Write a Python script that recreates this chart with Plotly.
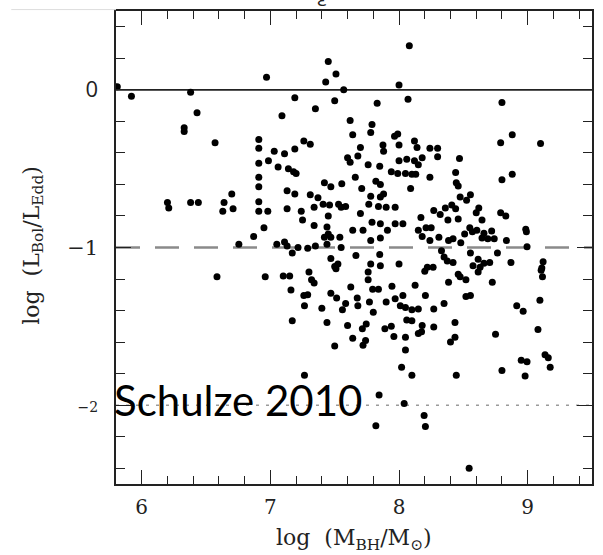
import plotly.graph_objects as go

# log(M_BH / M_sun) and log(L_bol / L_Edd) for the AGN sample,
# stored band by band from the top of the diagram downwards.
mbh_band1 = [5.81, 5.92, 6.38, 6.43, 6.33, 6.33, 6.97, 7.09, 7.19, 7.35,
             7.45, 7.43, 7.51, 7.50, 7.57, 7.62, 7.79, 7.83, 8.00, 8.08,
             8.07, 8.80]
edd_band1 = [0.02, -0.04, -0.015, -0.145, -0.24, -0.265, 0.08, -0.165, -0.05, -0.12,
             0.18, 0.05, 0.10, -0.07, 0.00, -0.195, -0.22, -0.085, 0.03, 0.28,
             -0.06, -0.08]

mbh_band2 = [6.57, 6.20, 6.21, 6.38, 6.44, 6.70, 6.71, 6.64, 6.63, 6.755,
             6.87, 6.95, 6.91, 6.91, 6.91, 6.985, 7.03, 7.11, 7.19, 7.26,
             7.31, 7.06, 7.14, 7.18, 7.20, 6.91, 6.91, 6.91, 6.91, 6.98,
             7.13, 7.19, 7.13, 7.24, 7.25, 7.31, 7.37, 7.34, 7.42, 7.47,
             7.555, 7.41, 7.46, 7.53, 7.55, 7.585, 7.45, 7.34, 7.44, 7.45,
             7.42, 7.47, 7.44, 7.54, 7.35, 7.29, 7.215, 7.11, 7.05, 7.13,
             7.17, 7.47, 7.50, 7.55]
edd_band2 = [-0.335, -0.715, -0.75, -0.715, -0.715, -0.66, -0.755, -0.715, -0.77, -0.98,
             -0.93, -0.875, -0.315, -0.37, -0.465, -0.45, -0.39, -0.405, -0.375, -0.325,
             -0.345, -0.49, -0.50, -0.52, -0.53, -0.555, -0.615, -0.71, -0.77, -0.77,
             -0.64, -0.66, -0.755, -0.77, -0.825, -0.665, -0.685, -0.745, -0.59, -0.615,
             -0.595, -0.725, -0.73, -0.725, -0.745, -0.74, -0.80, -0.86, -0.87, -0.915,
             -0.935, -0.935, -0.98, -0.935, -0.99, -1.005, -1.0, -0.965, -0.98, -0.99,
             -1.035, -1.07, -1.12, -1.0]

mbh_band3 = [7.64, 7.78, 7.965, 7.99, 7.70, 7.60, 7.62, 7.68, 7.76, 7.85,
             7.875, 7.88, 8.00, 8.12, 8.14, 8.24, 8.30, 8.00, 8.06, 8.12,
             8.15, 8.18, 8.30, 8.47, 7.94, 7.99, 8.05, 8.10, 8.13, 8.24,
             8.44, 8.445, 8.46, 8.79, 8.88, 9.10, 8.88, 8.80, 7.66, 7.82,
             7.855, 7.71, 7.88, 7.855, 7.78, 8.09, 7.765, 7.84, 7.90, 7.97,
             7.70, 7.64, 7.72, 7.79, 7.855, 7.91, 7.97, 8.03, 7.78, 7.855]
edd_band3 = [-0.285, -0.27, -0.295, -0.28, -0.365, -0.43, -0.46, -0.42, -0.475, -0.485,
             -0.35, -0.39, -0.35, -0.325, -0.365, -0.37, -0.37, -0.45, -0.44, -0.45,
             -0.475, -0.43, -0.425, -0.435, -0.52, -0.53, -0.53, -0.535, -0.535, -0.555,
             -0.525, -0.59, -0.61, -0.335, -0.285, -0.34, -0.535, -0.57, -0.555, -0.58,
             -0.60, -0.625, -0.66, -0.68, -0.675, -0.625, -0.725, -0.74, -0.745, -0.745,
             -0.785, -0.89, -0.89, -0.84, -0.85, -0.89, -0.85, -0.85, -0.955, -0.94]

mbh_band4 = [8.17, 8.15, 8.21, 8.25, 8.18, 8.24, 8.27, 8.32, 8.36, 8.41,
             8.44, 8.38, 8.46, 8.475, 8.525, 8.555, 8.60, 8.62, 8.645, 8.55,
             8.57, 8.605, 8.66, 8.72, 8.79, 8.83, 8.985, 8.99, 8.42, 8.48,
             8.51, 8.645, 8.69, 8.74, 8.31, 8.385, 8.835, 8.995, 8.33, 8.35,
             8.375, 8.42, 8.555, 8.615, 8.66, 8.705, 8.575, 8.63, 8.87, 9.12,
             9.11, 8.765, 8.22, 8.265, 7.78, 7.855, 8.00, 7.85, 7.665, 7.525,
             7.51]
edd_band4 = [-0.81, -0.89, -0.875, -0.875, -0.93, -0.955, -0.765, -0.79, -0.75, -0.73,
             -0.755, -0.825, -0.82, -0.68, -0.70, -0.665, -0.78, -0.75, -0.825, -0.875,
             -0.90, -0.89, -0.91, -0.895, -0.78, -0.80, -0.885, -0.90, -0.945, -0.97,
             -0.915, -0.94, -0.945, -0.945, -0.935, -0.955, -0.955, -0.995, -1.02, -1.06,
             -1.085, -1.095, -1.035, -1.075, -1.10, -1.095, -1.115, -1.125, -1.095, -1.09,
             -1.13, -1.035, -1.125, -1.125, -1.105, -1.115, -1.105, -1.045, -1.05, -1.105,
             -1.135]

mbh_band5 = [6.585, 6.96, 7.10, 7.15, 7.30, 7.32, 7.34, 7.16, 7.26, 7.29,
             7.265, 7.17, 7.40, 7.47, 7.515, 7.44, 7.56, 7.585, 7.625, 7.60,
             7.64, 7.675, 7.68, 7.715, 7.745, 7.72, 7.74, 7.76, 7.76, 7.77,
             7.795, 7.84, 7.80, 7.89, 7.94, 7.90, 7.945, 7.97, 7.96, 8.03,
             8.01, 8.05, 8.10, 8.15, 8.06, 8.10, 8.05, 8.05, 8.02, 8.10,
             8.125, 8.18, 8.15, 8.175, 8.20, 8.205, 8.27, 8.27, 8.35, 8.385,
             8.435, 8.435, 8.40, 8.445, 8.46, 8.475, 8.52, 8.52, 8.555, 8.615,
             8.725, 8.75, 8.80, 8.915, 8.965, 8.95, 8.995, 8.98, 9.08, 9.095,
             9.105, 9.115, 9.135, 9.16, 9.175, 7.265, 7.50, 7.845, 8.04, 7.82,
             8.195, 8.205, 8.545]
edd_band5 = [-1.185, -1.185, -1.18, -1.18, -1.155, -1.205, -1.225, -1.27, -1.305, -1.30,
             -1.37, -1.465, -1.385, -1.29, -1.32, -1.475, -1.395, -1.355, -1.25, -1.495,
             -1.575, -1.32, -1.37, -1.515, -1.485, -1.62, -1.59, -1.155, -1.205, -1.345,
             -1.265, -1.265, -1.41, -1.515, -1.50, -1.345, -1.245, -1.325, -1.565, -1.305,
             -1.37, -1.38, -1.395, -1.39, -1.46, -1.465, -1.57, -1.65, -1.76, -1.81,
             -1.24, -1.495, -1.545, -1.535, -1.15, -1.305, -1.39, -1.505, -1.355, -1.22,
             -1.475, -1.57, -1.60, -1.81, -1.17, -1.185, -1.205, -1.31, -1.305, -1.155,
             -1.22, -1.55, -1.78, -1.37, -1.405, -1.715, -1.725, -1.815, -1.52, -1.335,
             -1.145, -1.185, -1.68, -1.70, -1.76, -1.81, -1.625, -1.935, -1.99, -2.13,
             -2.065, -2.135, -2.40]

log_mbh = mbh_band1 + mbh_band2 + mbh_band3 + mbh_band4 + mbh_band5
log_edd = edd_band1 + edd_band2 + edd_band3 + edd_band4 + edd_band5

# axis ticks
x_tickvals = [6, 7, 8, 9]
x_ticktext = ["6", "7", "8", "9"]
y_tickvals = [0, -1, -2]
y_ticktext = [
    '<span style="font-family:Open Sans;font-size:22px">0</span>',
    '<span style="font-size:21px">\u22121</span>',
    '<span style="font-size:14px">\u22122</span>',
]

# reference Eddington ratios: 1, 0.1 and 0.01
ref_levels = [0, -1, -2]
ref_styles = [
    dict(color="#222222", width=1.7),
    dict(color="#8a8a8a", width=2.6, dash="24px,15px"),
    dict(color="#9a9a9a", width=1.5, dash="3px,7px"),
]

serif = "DejaVu Serif"
ink = "#222222"

fig = go.Figure()
fig.add_trace(go.Scatter(
    x=log_mbh, y=log_edd, mode="markers",
    marker=dict(color="black", size=7, line=dict(width=0)),
    hoverinfo="skip", showlegend=False, cliponaxis=True,
))

for level, style in zip(ref_levels, ref_styles):
    fig.add_shape(type="line", xref="paper", x0=0, x1=1, yref="y",
                  y0=level, y1=level, line=style, layer="below")

# thin rule above the panel
fig.add_shape(type="line", xref="paper", yref="paper", x0=-0.22, x1=0,
              y0=1.003, y1=1.003, line=dict(color="#dddddd", width=1))

axis_common = dict(
    showgrid=False, zeroline=False, showline=True, linecolor=ink, linewidth=1.6,
    mirror="ticks", ticks="inside", tickcolor=ink, tickwidth=1.3,
    tickfont=dict(family=serif, size=20, color=ink),
)

fig.update_xaxes(
    range=[5.8, 9.5], tickvals=x_tickvals, ticktext=x_ticktext, ticklen=14,
    minor=dict(dtick=0.2, tick0=5.8, ticks="inside", ticklen=8, tickwidth=1.2, tickcolor=ink),
    ticklabelstandoff=4, **axis_common,
)
fig.update_yaxes(
    range=[-2.5, 0.5], tickvals=y_tickvals, ticktext=y_ticktext, ticklen=15,
    minor=dict(dtick=0.2, tick0=-2.4, ticks="inside", ticklen=9, tickwidth=1.2, tickcolor=ink),
    ticklabelstandoff=12, **axis_common,
)

fig.add_annotation(
    text="Schulze 2010", x=-0.008, y=-1.968, xref="paper", yref="y",
    xanchor="left", yanchor="middle", showarrow=False,
    font=dict(family="Lato", size=42, color="black"),
)
fig.add_annotation(
    text="log  (M<sub>BH</sub>/M<sub>\u2299</sub>)", x=0.5, y=-0.118,
    xref="paper", yref="paper", xanchor="center", yanchor="middle",
    showarrow=False, font=dict(family=serif, size=22, color=ink),
)
fig.add_annotation(
    text="log  (L<sub>Bol</sub>/L<sub>Edd</sub>)", x=-0.174, y=0.504,
    xref="paper", yref="paper", xanchor="center", yanchor="middle",
    textangle=-90, showarrow=False, font=dict(family=serif, size=22, color=ink),
)
fig.add_annotation(
    text="\u03b5", x=7.40, y=1, xref="x", yref="paper", xanchor="center",
    yanchor="bottom", yshift=-3, showarrow=False,
    font=dict(family="Open Sans", size=20, color=ink),
)

fig.update_layout(
    width=603, height=555, margin=dict(l=116, r=11, t=9, b=71),
    paper_bgcolor="white", plot_bgcolor="white",
)

fig.write_html("out.html")
